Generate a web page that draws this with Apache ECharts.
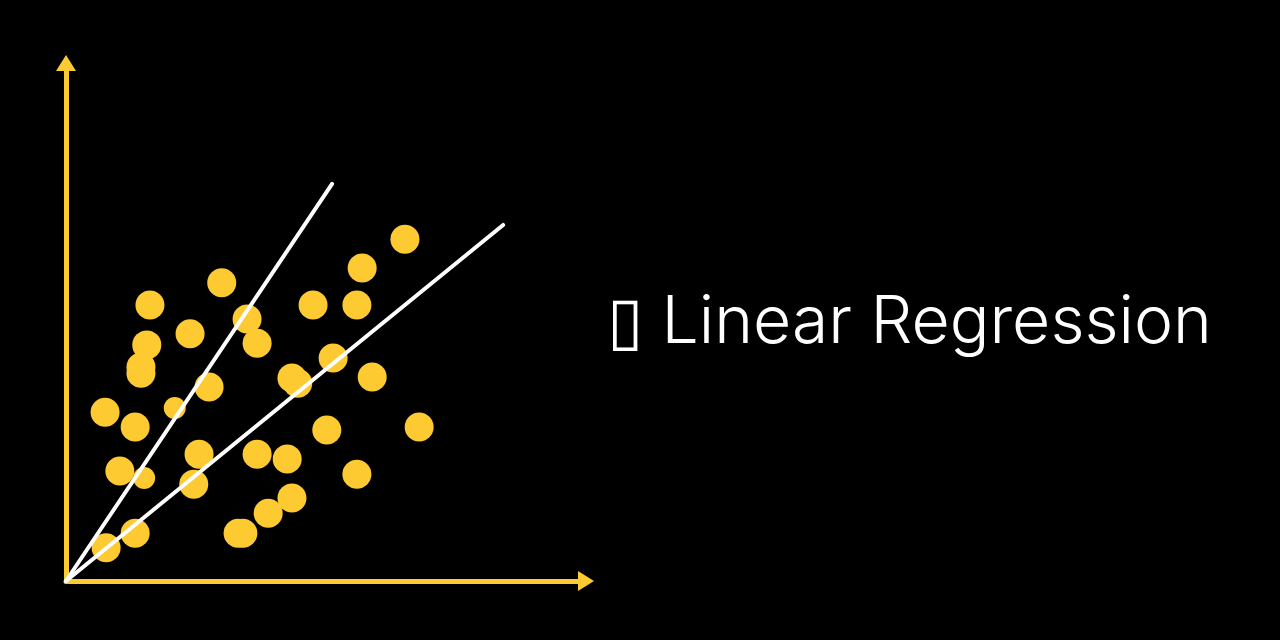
<!DOCTYPE html>
<html>
<head>
<meta charset="utf-8">
<script src="https://cdn.jsdelivr.net/npm/echarts@6/dist/echarts.min.js"></script>
<style>
html, body { margin: 0; padding: 0; background: #000; }
#main { width: 1280px; height: 640px; }
</style>
</head>
<body>
<div id="main"></div>
<script>
// points, both axes 0..100
var dotX = [64.2, 56.1, 29.5, 15.9, 46.8, 55.1, 34.3, 23.5, 15.3, 36.2, 14.2, 14.2, 50.6, 42.8, 43.9, 58.0, 27.1, 7.4, 13.1, 49.4, 66.9, 25.2, 36.2, 41.9, 10.2, 55.1, 24.2, 42.8, 38.3, 13.1, 32.6, 33.5, 7.6];
var dotY = [65.0, 59.5, 56.7, 52.5, 52.5, 52.5, 49.8, 47.0, 44.9, 45.2, 40.7, 39.5, 42.4, 38.6, 37.6, 38.8, 36.9, 32.1, 29.3, 28.7, 29.3, 24.1, 24.1, 23.2, 20.9, 20.3, 18.4, 15.8, 12.9, 9.1, 9.1, 9.1, 6.3];
// the two smaller dots
var smallX = [20.6, 14.8];
var smallY = [32.9, 19.6];
// two candidate lines through the origin
var lineA = [[0, 0], [50.4, 75.5]];
var lineB = [[0, 0], [82.8, 67.7]];
var title = "\u25AF Linear Regression";

var yellow = "#FECA31";

function pairs(xs, ys) {
	return xs.map(function(x, i){ return [x, ys[i]]; });
}

var chart = echarts.init(document.getElementById("main"));
var option = {
	backgroundColor: "#000",
	animation: false,
	grid: { left: 66, top: 63, width: 520, height: 518 },
	xAxis: {
		type: "value", min: 0, max: 98.5,
		splitLine: { show: false }, axisTick: { show: false }, axisLabel: { show: false },
		axisLine: {
			onZero: false,
			symbol: ["none", "triangle"],
			symbolSize: [20, 16],
			lineStyle: { color: yellow, width: 5, cap: "round" }
		}
	},
	yAxis: {
		type: "value", min: 0, max: 98.5,
		splitLine: { show: false }, axisTick: { show: false }, axisLabel: { show: false },
		axisLine: {
			show: true, onZero: false,
			symbol: ["none", "triangle"],
			symbolSize: [20, 16],
			lineStyle: { color: yellow, width: 5, cap: "round" }
		}
	},
	graphic: [{
		type: "text",
		left: 607,
		top: 290,
		style: {
			text: title,
			fill: "#fff",
			font: "300 66px Inter, 'Noto Sans', sans-serif"
		}
	}],
	series: [
		{
			type: "scatter",
			data: pairs(dotX, dotY),
			symbolSize: 29,
			itemStyle: { color: yellow, opacity: 1 },
			z: 2
		},
		{
			type: "scatter",
			data: pairs(smallX, smallY),
			symbolSize: 22,
			itemStyle: { color: yellow, opacity: 1 },
			z: 2
		},
		{
			type: "line",
			data: lineA,
			symbol: "none",
			lineStyle: { color: "#fff", width: 4, cap: "round" },
			z: 3
		},
		{
			type: "line",
			data: lineB,
			symbol: "none",
			lineStyle: { color: "#fff", width: 4, cap: "round" },
			z: 3
		}
	]
};
chart.setOption(option);
</script>
</body>
</html>
